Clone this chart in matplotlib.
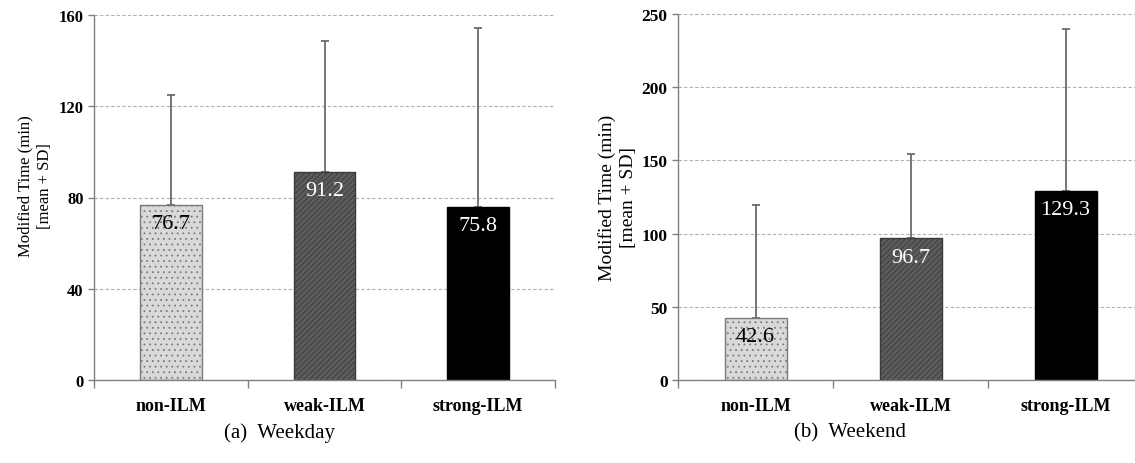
import matplotlib
matplotlib.use("Agg")
import matplotlib.pyplot as plt

plt.rcParams['font.family'] = ['Liberation Serif', 'DejaVu Serif']
plt.rcParams['hatch.linewidth'] = 0.6

groups = ['non-ILM', 'weak-ILM', 'strong-ILM']
weekday_mean = [76.7, 91.2, 75.8]
weekday_sd = [48.2, 57.5, 78.5]
weekend_mean = [42.6, 96.7, 129.3]
weekend_sd = [76.7, 57.5, 110.5]

fills = ['#d9d9d9', '#5c5c5c', '#000000']
edges = ['#7a7a7a', '#3a3a3a', '#000000']
hatches = ['...', '//////', '']
label_colors = ['black', 'white', 'white']

fig = plt.figure(figsize=(11.35, 4.64), dpi=100)
W, H = 1135, 464
ax1 = fig.add_axes([94 / W, 83 / H, 461 / W, 365 / H])
ax2 = fig.add_axes([678 / W, 83 / H, 465 / W, 366 / H])


def draw(ax, means, sds, ymax, step, ysize, lsize):
    x = range(len(groups))
    ax.set_axisbelow(True)
    ax.yaxis.grid(True, linestyle=(0, (3, 2)), color='#b0b0b0', linewidth=0.8)
    for i in x:
        ax.bar(i, means[i], width=0.4, color=fills[i], edgecolor=edges[i],
               hatch=hatches[i], linewidth=1.0, zorder=2)
    ax.errorbar(list(x), means, yerr=[[0] * len(sds), sds], fmt='none',
                ecolor='#6a6a6a', elinewidth=1.3, capsize=3, capthick=1.3, zorder=1)
    for i in x:
        ax.annotate(f'{means[i]:.1f}', (i, means[i]), xytext=(0, -13.5),
                    textcoords='offset points', ha='center', va='center',
                    fontsize=16, color=label_colors[i], zorder=3)
    ax.set_xlim(-0.5, 2.5)
    ax.set_ylim(0, ymax)
    ax.set_yticks(range(0, ymax + 1, step))
    ax.set_xticks(list(x))
    ax.set_xticklabels(groups, fontsize=13, fontweight='bold')
    ax.set_xticks([-0.5, 0.5, 1.5, 2.5], minor=True)
    ax.tick_params(axis='x', which='major', length=0, pad=12)
    ax.tick_params(axis='x', which='minor', length=6, color='#808080', width=1)
    ax.tick_params(axis='y', length=4, color='#808080', width=1, labelsize=ysize)
    for lab in ax.get_yticklabels():
        lab.set_fontweight('bold')
    for s in ['top', 'right']:
        ax.spines[s].set_visible(False)
    for s in ['left', 'bottom']:
        ax.spines[s].set_color('#808080')
        ax.spines[s].set_linewidth(1.0)
    ax.set_ylabel('Modified Time (min)\n[mean + SD]', fontsize=lsize, linespacing=1.3)


draw(ax1, weekday_mean, weekday_sd, 160, 40, 12, 12)
draw(ax2, weekend_mean, weekend_sd, 250, 50, 12.5, 14)
ax1.yaxis.set_label_coords(-0.089, 0.535)
ax2.yaxis.set_label_coords(-0.088, 0.5)

fig.text(280 / W, 1 - 433 / H, '(a)  Weekday', ha='center', va='center', fontsize=15)
fig.text(850 / W, 1 - 433 / H, '(b)  Weekend', ha='center', va='center', fontsize=15)

fig.savefig('out.png', dpi=100)
